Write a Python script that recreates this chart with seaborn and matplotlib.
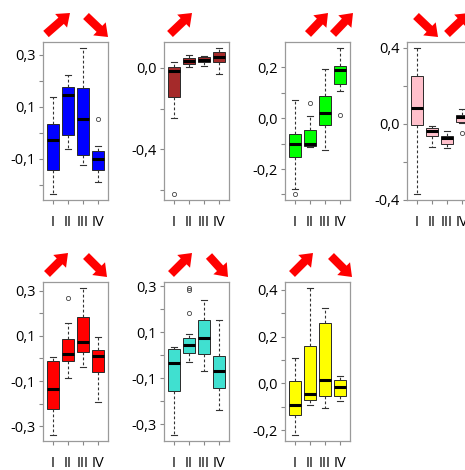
import numpy as np
import pandas as pd
import matplotlib
matplotlib.use("Agg")
import matplotlib.pyplot as plt
import seaborn as sns

# ---------------- data ----------------
groups = ["I", "II", "III", "IV"]
panel_colors = ["#0000FF", "#A52A2A", "#00FF00", "#FFC0CB",
                "#FF0000", "#40E0D0", "#FFFF00"]

# per panel: values for groups I..IV
whisker_low = [
    [-0.235, -0.061, -0.123, -0.188],
    [-0.248, 0.005, 0.008, -0.028],
    [-0.279, -0.114, -0.127, 0.109],
    [-0.370, -0.124, -0.126, 0.005],
    [-0.339, -0.085, -0.036, -0.193],
    [-0.347, -0.029, -0.070, -0.236],
    [-0.221, -0.091, -0.105, -0.075],
]
quart1 = [
    [-0.141, -0.010, -0.083, -0.141],
    [-0.144, 0.021, 0.028, 0.028],
    [-0.154, -0.110, -0.025, 0.133],
    [-0.005, -0.066, -0.108, 0.012],
    [-0.225, -0.010, 0.028, -0.058],
    [-0.155, 0.011, 0.005, -0.143],
    [-0.137, -0.072, -0.053, -0.053],
]
medians = [
    [-0.029, 0.145, 0.052, -0.100],
    [-0.017, 0.033, 0.041, 0.055],
    [-0.101, -0.101, 0.019, 0.191],
    [0.084, -0.037, -0.076, 0.036],
    [-0.136, 0.019, 0.072, 0.012],
    [-0.033, 0.044, 0.075, -0.070],
    [-0.094, -0.043, 0.014, -0.014],
]
quart3 = [
    [0.035, 0.175, 0.171, -0.070],
    [0.003, 0.050, 0.053, 0.078],
    [-0.062, -0.048, 0.087, 0.207],
    [0.250, -0.023, -0.062, 0.048],
    [-0.010, 0.084, 0.185, 0.036],
    [0.027, 0.075, 0.152, -0.004],
    [0.010, 0.162, 0.260, 0.014],
]
whisker_high = [
    [0.139, 0.223, 0.326, -0.051],
    [0.030, 0.063, 0.058, 0.099],
    [0.071, 0.008, 0.193, 0.277],
    [0.400, -0.011, -0.037, 0.078],
    [0.006, 0.155, 0.312, 0.096],
    [0.038, 0.094, 0.242, 0.152],
    [0.108, 0.409, 0.325, 0.033],
]
outliers = [
    [[], [], [], [0.052]],
    [[-0.620], [], [], []],
    [[-0.299], [0.058], [], [0.012]],
    [[], [], [], [-0.046]],
    [[], [0.267], [], []],
    [[], [0.293, 0.282, 0.183], [], []],
    [[], [], [], []],
]

y_tick_values = [
    [-0.2, -0.1, 0.0, 0.1, 0.2, 0.3],
    [-0.6, -0.4, -0.2, 0.0],
    [-0.3, -0.2, -0.1, 0.0, 0.1, 0.2],
    [-0.4, -0.2, 0.0, 0.2, 0.4],
    [-0.3, -0.2, -0.1, 0.0, 0.1, 0.2, 0.3],
    [-0.3, -0.2, -0.1, 0.0, 0.1, 0.2, 0.3],
    [-0.2, -0.1, 0.0, 0.1, 0.2, 0.3, 0.4],
]
y_tick_labels = [
    ["", "-0,1", "", "0,1", "", "0,3"],
    ["", "-0,4", "", "0,0"],
    ["", "-0,2", "", "0,0", "", "0,2"],
    ["-0,4", "", "0,0", "", "0,4"],
    ["-0,3", "", "-0,1", "", "0,1", "", "0,3"],
    ["-0,3", "", "-0,1", "", "0,1", "", "0,3"],
    ["-0,2", "", "0,0", "", "0,2", "", "0,4"],
]

# trend arrows above each panel: (left px, right px, direction)
arrows = [
    [(0, 27, "up"), (40, 65, "down")],
    [(3, 28, "up")],
    [(20, 43, "up"), (45, 68, "up")],
    [(6, 31, "down"), (37, 62, "up")],
    [(1, 25, "up"), (40, 64, "down")],
    [(4, 28, "up"), (42, 64, "down")],
    [(4, 28, "up"), (43, 67, "down")],
]

# ---------------- layout ----------------
W, H = 465, 470
panel_px = [(43, 42, 65, 158), (164, 42, 65, 158), (285, 42, 65, 158),
            (407, 42, 65, 158),
            (43, 282, 65, 159), (164, 282, 65, 159), (285, 282, 65, 159)]

plt.rcParams["font.family"] = ["Open Sans", "DejaVu Sans"]

fig = plt.figure(figsize=(W / 100, H / 100), dpi=100)


def expand(lo, a, m, b, hi, outs):
    # a sample whose quartiles / whiskers reproduce the read statistics
    return [lo] + [a] * 10 + [m] * 9 + [b] * 10 + [hi] + list(outs)


for i in range(7):
    l, t, w, h = panel_px[i]
    ax = fig.add_axes([l / W, (H - t - h) / H, w / W, h / H])
    rows = []
    for g in range(4):
        vals = expand(whisker_low[i][g], quart1[i][g], medians[i][g],
                      quart3[i][g], whisker_high[i][g], outliers[i][g])
        rows += [(groups[g], v) for v in vals]
    df = pd.DataFrame(rows, columns=["group", "value"])
    sns.boxplot(data=df, x="group", y="value", order=groups, ax=ax,
                color=panel_colors[i], saturation=1, width=0.8, whis=1.5,
                linecolor="#2a2a2a", linewidth=0.7,
                medianprops=dict(color="black", linewidth=2.2),
                whiskerprops=dict(linestyle=(0, (2.5, 2)), color="#333333",
                                  linewidth=0.8),
                capprops=dict(color="#333333", linewidth=0.8),
                flierprops=dict(marker="o", markersize=3,
                                markerfacecolor="none",
                                markeredgecolor="#444444",
                                markeredgewidth=0.6))
    ax.set_xlim(-0.66, 3.66)
    allv = df["value"].to_numpy()
    lo, hi = allv.min(), allv.max()
    pad = 0.04 * (hi - lo)
    ax.set_ylim(lo - pad, hi + pad)
    ax.set_yticks(y_tick_values[i])
    ax.set_yticklabels(y_tick_labels[i])
    ax.set_xticks(range(4))
    ax.set_xticklabels(groups)
    ax.set_xlabel("")
    ax.set_ylabel("")
    for s in ax.spines.values():
        s.set_visible(True)
        s.set_color("#9a9a9a")
        s.set_linewidth(0.9)
    ax.tick_params(axis="both", color="#888888", length=3, width=0.8,
                   labelcolor="black")
    ax.tick_params(axis="y", pad=2, labelsize=10.5)
    ax.tick_params(axis="x", pad=8, labelsize=10.5)

    for (x0, x1, d) in arrows[i]:
        if d == "up":
            tail = (x0 + 3, h + 8)
            tip = (x1, h + 29)
        else:
            tail = (x0 + 3, h + 26)
            tip = (x1, h + 5)
        ax.annotate("", xy=tip, xytext=tail,
                    xycoords="axes pixels", textcoords="axes pixels",
                    arrowprops=dict(
                        arrowstyle="simple,head_length=0.85,head_width=1.3,tail_width=0.6",
                        color="#FF0000", mutation_scale=10,
                        shrinkA=0, shrinkB=0, lw=0),
                    annotation_clip=False)

fig.savefig("out.png", dpi=100)
